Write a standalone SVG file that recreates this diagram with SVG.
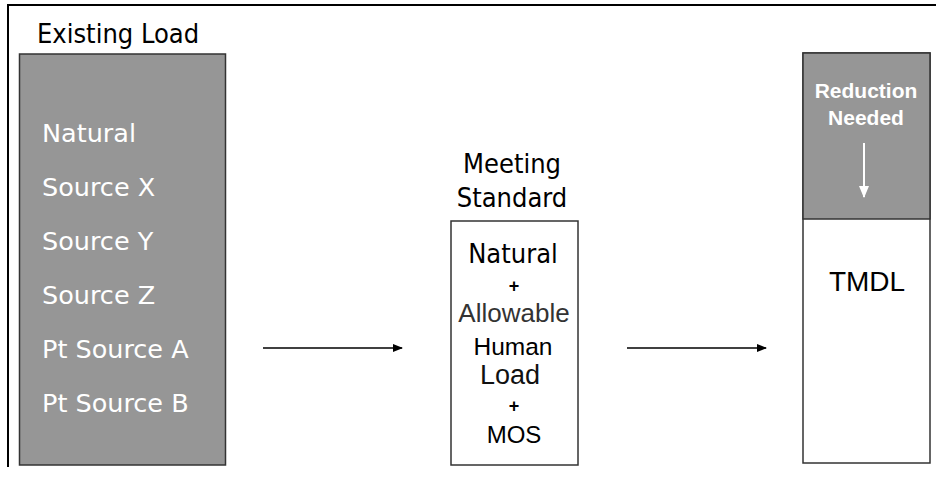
<svg xmlns="http://www.w3.org/2000/svg" width="936" height="478" viewBox="0 0 936 478">
<style>
.tah{font-family:"DejaVu Sans Condensed","DejaVu Sans",sans-serif;font-stretch:condensed}
.dv{font-family:"DejaVu Sans",sans-serif}
.ar{font-family:"Liberation Sans",Arial,sans-serif}
.box{stroke:#333;stroke-width:1.5}
.gray{fill:#969696}
.wt{fill:#ffffff}
.bk{fill:#000000}
.conn{stroke:#000;stroke-width:1.5;fill:none}
</style>
<defs>
<marker id="ah" markerWidth="10" markerHeight="8" refX="9" refY="4" orient="auto" markerUnits="userSpaceOnUse">
<path d="M0,0 L10,4 L0,8 z" fill="#000"/>
</marker>
<marker id="ahw" markerWidth="10" markerHeight="12" refX="5" refY="11" orient="0" markerUnits="userSpaceOnUse">
<path d="M0,0 L10,0 L5,12 z" fill="#fff"/>
</marker>
</defs>
<rect width="936" height="478" fill="#fff"/>
<g id="frame">
<line x1="8" y1="5" x2="936" y2="5" stroke="#000" stroke-width="2"/>
<line x1="8" y1="4" x2="8" y2="467" stroke="#000" stroke-width="2"/>
</g>
<g id="existing-load">
<text class="tah bk" x="37" y="43" font-size="27">Existing Load</text>
<rect class="box gray" x="19.5" y="54" width="206" height="411"/>
<g class="dv wt" font-size="25.5">
<text x="42" y="142">Natural</text>
<text x="42" y="196">Source X</text>
<text x="42" y="250">Source Y</text>
<text x="42" y="304">Source Z</text>
<text x="42" y="358">Pt Source A</text>
<text x="42" y="412">Pt Source B</text>
</g>
</g>
<g id="meeting-standard">
<text class="tah bk" x="512" y="173" font-size="27" text-anchor="middle">Meeting</text>
<text class="tah bk" x="512" y="207" font-size="27" text-anchor="middle">Standard</text>
<rect class="box" fill="#fff" x="451" y="221" width="127" height="244"/>
<text class="tah bk" x="513" y="263" font-size="27" text-anchor="middle">Natural</text>
<text class="ar bk" x="514" y="292" font-size="18" font-weight="bold" text-anchor="middle">+</text>
<text class="ar" fill="#333" x="514" y="322" font-size="26" text-anchor="middle">Allowable</text>
<text class="ar bk" x="513" y="355" font-size="24.5" text-anchor="middle">Human</text>
<text class="ar" fill="#111" x="510" y="384" font-size="27" text-anchor="middle">Load</text>
<text class="ar bk" x="514" y="412" font-size="18" font-weight="bold" text-anchor="middle">+</text>
<text class="ar bk" x="514" y="443" font-size="24" text-anchor="middle">MOS</text>
</g>
<g id="tmdl">
<rect class="box" fill="#fff" x="803" y="53" width="127" height="410"/>
<rect class="box gray" x="803" y="53" width="127" height="166"/>
<text class="ar wt" x="866" y="98" font-size="21" font-weight="bold" text-anchor="middle">Reduction</text>
<text class="ar wt" x="866" y="125" font-size="21" font-weight="bold" text-anchor="middle">Needed</text>
<line x1="864" y1="143" x2="864" y2="197" stroke="#fff" stroke-width="2" marker-end="url(#ahw)"/>
<text class="ar bk" x="867" y="291" font-size="28" text-anchor="middle">TMDL</text>
</g>
<g id="connectors">
<line class="conn" x1="263" y1="348" x2="402" y2="348" marker-end="url(#ah)"/>
<line class="conn" x1="627" y1="348" x2="766" y2="348" marker-end="url(#ah)"/>
</g>
</svg>
